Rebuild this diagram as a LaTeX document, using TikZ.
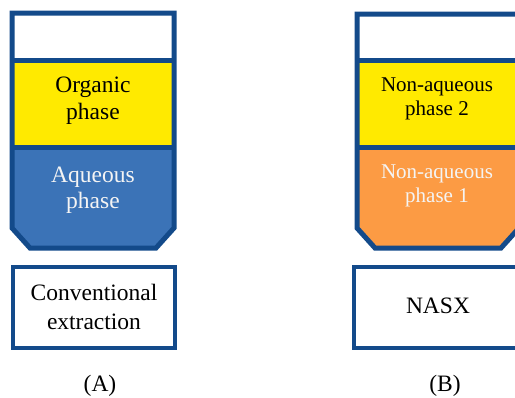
\documentclass[tikz,border=0pt]{standalone}
\usepackage{fontspec}
\setmainfont{Liberation Serif}
\definecolor{rim}{HTML}{134A8A}
\definecolor{phaseyellow}{HTML}{FFEA00}
\definecolor{phaseblue}{HTML}{3B73B7}
\definecolor{phaseorange}{HTML}{FC9B44}
\definecolor{softwhite}{HTML}{F4F4F4}
\begin{document}
\begin{tikzpicture}[x=1pt,y=-1pt,
  rimline/.style={draw=rim,line width=5pt,line join=miter},
  divider/.style={draw=rim,line width=5pt},
  label/.style={font=\fontsize{23.5}{26}\selectfont,align=center,inner sep=0pt},
  smalllabel/.style={font=\fontsize{21}{24}\selectfont,align=center,inner sep=0pt},
  methodbox/.style={draw=rim,line width=4.5pt,fill=white}]
\useasboundingbox (0,0) rectangle (515,397);

% ---- vessel A: conventional extraction ----
\begin{scope}
  \clip (12,13) -- (174,13) -- (174,228) -- (156,248) -- (30,248) -- (12,228) -- cycle;
  \fill[white] (12,13) rectangle (174,60);
  \fill[phaseyellow] (12,60) rectangle (174,147);
  \fill[phaseblue] (12,147) rectangle (174,248);
\end{scope}
\draw[divider] (12,60) -- (174,60);
\draw[divider] (12,147) -- (174,147);
\draw[rimline] (12,13) -- (174,13) -- (174,228) -- (156,248) -- (30,248) -- (12,228) -- cycle;
\node[label,font=\fontsize{23.5}{27}\selectfont] (org) at (93,101) {Organic\\phase};
\node[label,text=softwhite] (aq) at (93,190) {Aqueous\\phase};

% ---- vessel B: NASX ----
\begin{scope}
  \clip (357,14) -- (519,14) -- (519,228) -- (501,248) -- (375,248) -- (357,228) -- cycle;
  \fill[white] (357,14) rectangle (519,60);
  \fill[phaseyellow] (357,60) rectangle (519,147);
  \fill[phaseorange] (357,147) rectangle (519,248);
\end{scope}
\draw[divider] (357,60) -- (519,60);
\draw[divider] (357,147) -- (519,147);
\draw[rimline] (357,14) -- (519,14) -- (519,228) -- (501,248) -- (375,248) -- (357,228) -- cycle;
\node[smalllabel] (na2) at (437,99) {Non-aqueous\\phase 2};
\node[smalllabel,text=softwhite] (na1) at (437,186) {Non-aqueous\\phase 1};

% ---- method boxes ----
\node[methodbox,minimum width=162pt,minimum height=81pt,inner sep=0pt] (conv) at (94,307.5) {};
\node[label,font=\fontsize{23.5}{29}\selectfont] (convtext) at (94,307) {Conventional\\extraction};
\node[methodbox,minimum width=168pt,minimum height=81pt,inner sep=0pt] (nasx) at (438,307.5) {};
\node[label,anchor=base] (nasxtext) at (438,313) {NASX};

% ---- panel captions ----
\node[label,anchor=base] (capA) at (100,391) {(A)};
\node[label,anchor=base] (capB) at (445,391) {(B)};
\end{tikzpicture}
\end{document}
